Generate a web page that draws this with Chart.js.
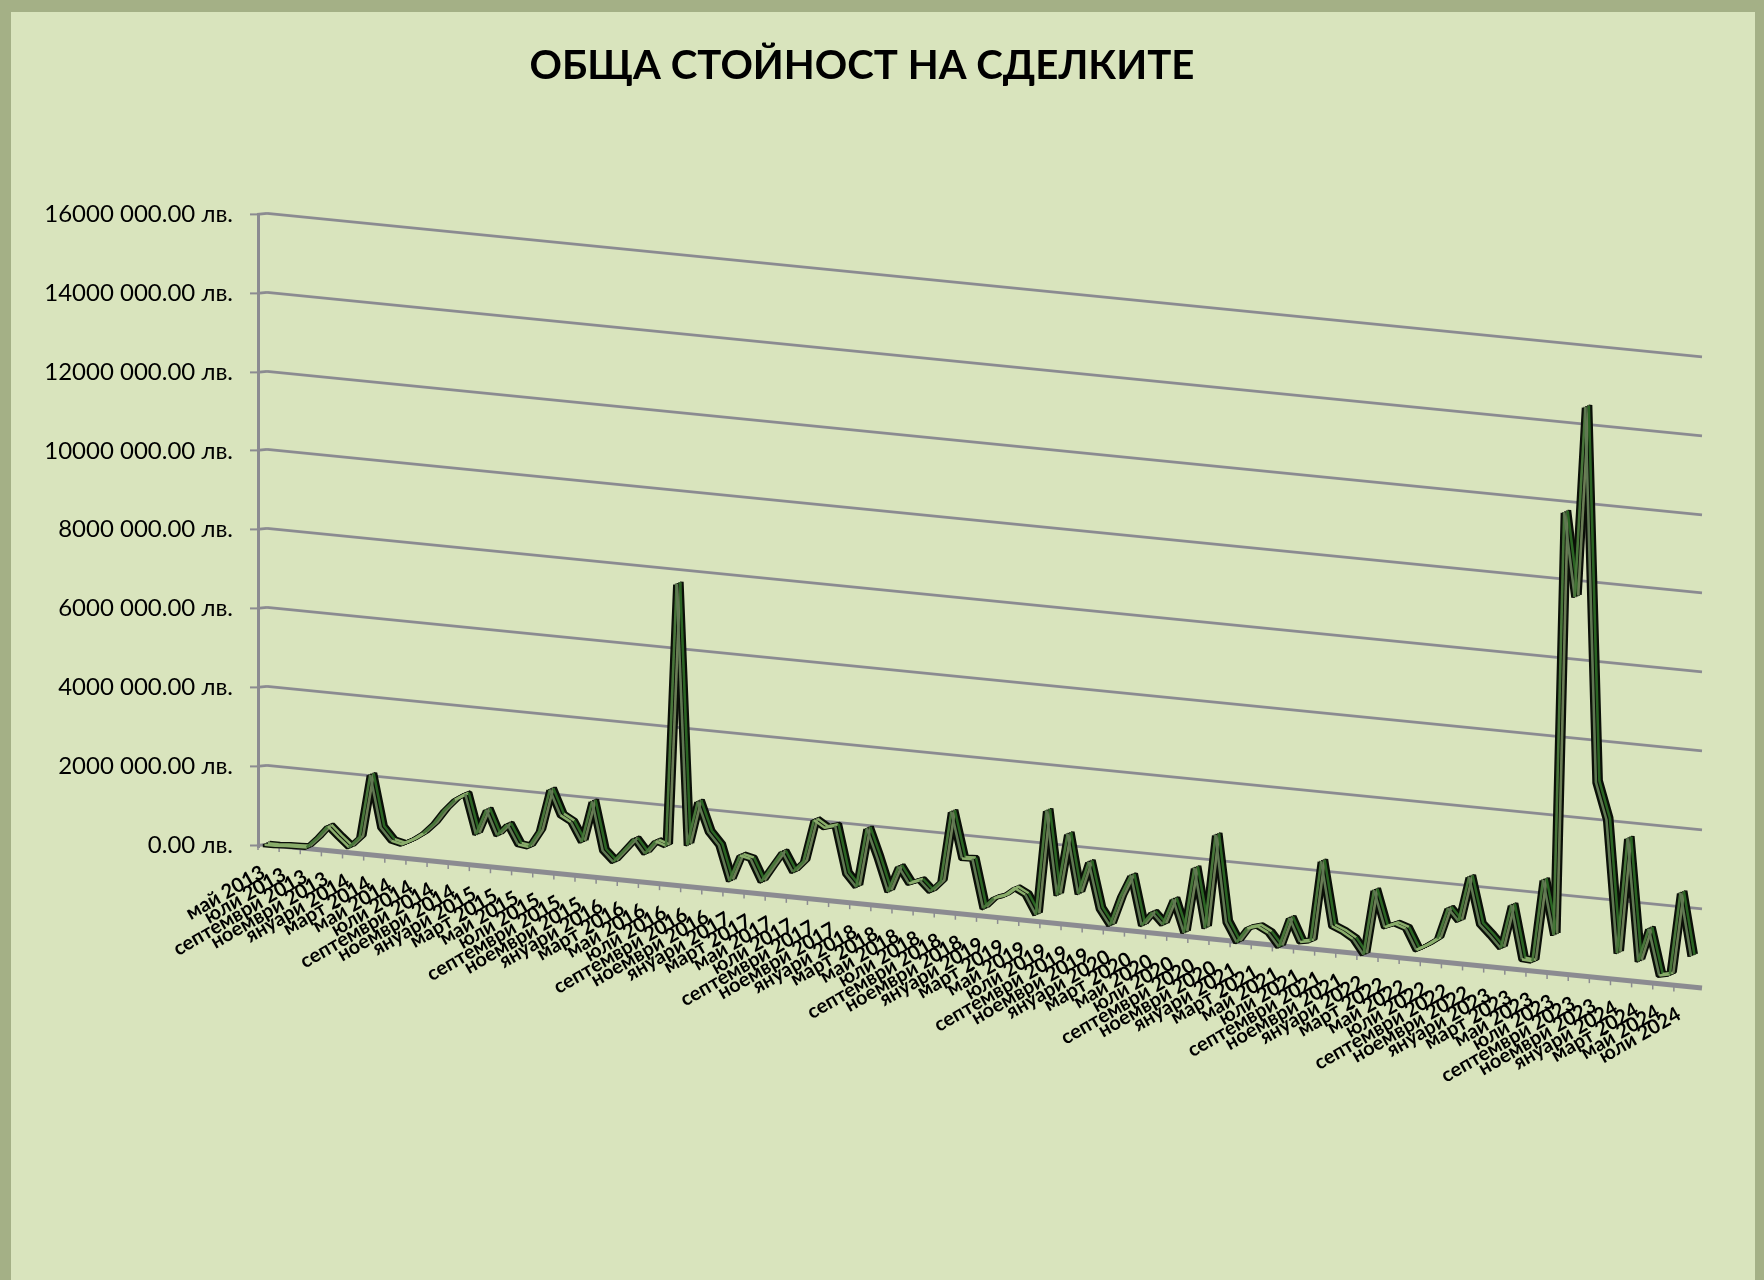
<!DOCTYPE html>
<html>
<head>
<meta charset="utf-8">
<title>Обща стойност на сделките</title>
<script src="https://cdn.jsdelivr.net/npm/chart.js@4"></script>
<style>
  html, body { margin: 0; padding: 0; overflow: hidden; background: #d9e4bd; }
  #frame {
    position: absolute; left: 0; top: 0; width: 1764px; height: 1280px; box-sizing: border-box;
    border-style: solid; border-color: #a4b086; border-width: 12px 9px 0 11px;
  }
  #myChart { position: absolute; left: 0; top: 0; }
</style>
</head>
<body>
<div id="frame"></div>
<canvas id="myChart" width="1748" height="1280"></canvas>
<script>
const chartTitle = 'ОБЩА СТОЙНОСТ НА СДЕЛКИТЕ';
const monthNames = ['януари', 'февруари', 'март', 'април', 'май', 'юни', 'юли', 'август', 'септември', 'октомври', 'ноември', 'декември'];
const yTickLabels = ['0.00 лв.', '2000 000.00 лв.', '4000 000.00 лв.', '6000 000.00 лв.', '8000 000.00 лв.',
  '10000 000.00 лв.', '12000 000.00 лв.', '14000 000.00 лв.', '16000 000.00 лв.'];

// one value per month, май 2013 - август 2024
const dealValues = [
  40000, 40000, 60000, 70000, 80000, 350000, 670000, 420000, 190000, 470000,
  2080000, 770000, 460000, 400000, 540000, 730000, 1000000, 1370000, 1660000, 1830000,
  840000, 1490000, 870000, 1170000, 690000, 650000, 1080000, 2160000, 1540000, 1390000,
  910000, 1970000, 750000, 490000, 800000, 1120000, 780000, 1120000, 1030000, 7700000,
  1100000, 2230000, 1490000, 1180000, 300000, 970000, 910000, 360000, 770000, 1170000,
  690000, 980000, 2060000, 1890000, 1970000, 780000, 470000, 1980000, 1250000, 430000,
  1090000, 690000, 800000, 540000, 820000, 2620000, 1460000, 1470000, 250000, 530000,
  620000, 840000, 700000, 220000, 2890000, 770000, 2350000, 860000, 1690000, 530000,
  140000, 890000, 1460000, 220000, 570000, 290000, 960000, 140000, 1810000, 310000,
  2700000, 510000, 30000, 410000, 490000, 350000, 20000, 780000, 200000, 250000,
  2300000, 680000, 570000, 410000, 40000, 1700000, 790000, 900000, 810000, 290000,
  440000, 630000, 1430000, 1130000, 2280000, 1100000, 840000, 550000, 1670000, 320000,
  300000, 2390000, 1020000, 11770000, 9650000, 14490000, 5000000, 4080000, 720000, 3660000,
  570000, 1420000, 260000, 320000, 2410000, 830000
];

const categories = [];
for (let i = 0; i < dealValues.length; i++) {
  categories.push(monthNames[(4 + i) % 12] + ' ' + (2013 + Math.floor((4 + i) / 12)));
}

const slope = 0.1;       // the floor and the wall run downhill to the right
const gridColor = '#8b8b91';

function bandColor(side) {
  return ctx => {
    const change = ctx.p1.parsed.y - ctx.p0.parsed.y;
    if (Math.abs(change) < 260000) return '#8aad6b';
    if (change > 0) return side < 0 ? '#477539' : '#6a7d55';
    return side < 0 ? '#5f7852' : '#2a6423';
  };
}

// the ribbon: coloured faces on top, black outline copies under them
const ribbonFaces = [-0.5, 0.5].map(depth => ({
  data: dealValues, depth, borderWidth: 2.6, borderColor: '#477539',
  segment: { borderColor: bandColor(depth) }
}));
const ribbonOutline = [-1, -0.5, 0, 0.5, 1].map(depth => ({
  data: dealValues, depth, borderWidth: 3.6, borderColor: '#0b0f08'
}));

const shearPlugin = {
  id: 'shear',
  beforeDraw(chart) {
    const { x, y } = chart.scales;
    const area = chart.chartArea;
    const drop = px => slope * (px - area.left);

    chart.titleBlock.left = 29;   // title sits a little right of the layout centre

    const labels = x.getLabelItems(area);
    if (!labels.sheared) {
      labels.forEach(item => {
        const t = item.options.translation;
        t[1] += drop(t[0]);
      });
      labels.sheared = true;
    }

    const band = x.width / categories.length;
    x._gridLineItems = x._computeGridLineItems(area);
    x._gridLineItems.forEach((item, i) => {
      const px = area.left + i * 2 * band;
      item.tx1 = item.tx2 = px;
      item.ty1 = area.bottom + drop(px);
      item.ty2 = item.ty1 + 5;
    });

    y._gridLineItems = y._computeGridLineItems(area);
    y._gridLineItems.forEach(item => {
      item.x1 = area.left + 9;
      item.y1 = item.ty1 - 1;
      item.x2 = area.right + 7;
      item.y2 = item.y1 + slope * (item.x2 - item.x1);
    });
  },
  beforeDatasetsDraw(chart) {
    const ctx = chart.ctx;
    ctx.save();
    ctx.strokeStyle = gridColor;
    ctx.lineWidth = 2.8;
    chart.scales.y._gridLineItems.forEach(item => {
      ctx.beginPath();
      ctx.moveTo(item.tx2, item.ty1);
      ctx.lineTo(item.x1, item.y1);
      ctx.stroke();
    });
    ctx.restore();
  },
  beforeDatasetDraw(chart, args) {
    const depth = chart.data.datasets[args.index].depth;
    const left = chart.chartArea.left;
    chart.ctx.save();
    chart.ctx.transform(1, slope, 0, 1, 3 + depth * 3.5, -slope * left - depth * 1.5);
  },
  afterDatasetDraw(chart) {
    chart.ctx.restore();
  }
};

new Chart('myChart', {
  type: 'line',
  plugins: [shearPlugin],
  data: {
    labels: categories,
    datasets: ribbonFaces.concat(ribbonOutline).map(set => Object.assign({
      pointRadius: 0, tension: 0, clip: false, borderJoinStyle: 'bevel'
    }, set))
  },
  options: {
    responsive: false,
    animation: false,
    layout: { autoPadding: false, padding: { left: 0, right: 53, top: 0, bottom: 0 } },
    plugins: {
      legend: { display: false },
      tooltip: { enabled: false },
      title: {
        display: true,
        text: chartTitle,
        color: '#000',
        font: { family: 'Lato', size: 40.2, weight: 'bold' },
        padding: { top: 42, bottom: 124 }
      }
    },
    scales: {
      x: {
        offset: true,
        afterBuildTicks: scale => { scale.ticks = scale.ticks.filter(t => t.value % 2 === 0); },
        afterFit: scale => { scale.height = 435; },
        border: { display: false },
        grid: { drawOnChartArea: false, tickLength: 15.6, tickColor: gridColor, tickWidth: 1.5 },
        ticks: {
          autoSkip: false, minRotation: 30, maxRotation: 30, padding: 0,
          color: '#000', font: { family: 'Lato', size: 20, weight: 'bold' }
        }
      },
      y: {
        min: 0,
        max: 16000000,
        afterFit: scale => { scale.width = 258; },
        border: { color: gridColor, width: 3 },
        grid: {
          color: gridColor,
          lineWidth: ctx => (ctx.tick && ctx.tick.value === 0 ? 5 : 2.8),
          tickLength: 8, tickColor: gridColor, tickWidth: 2
        },
        ticks: {
          stepSize: 2000000,
          padding: 17,
          color: '#000',
          font: { family: 'Lato', size: 24 },
          callback: (value, i) => yTickLabels[i]
        }
      }
    }
  }
});
</script>
</body>
</html>
